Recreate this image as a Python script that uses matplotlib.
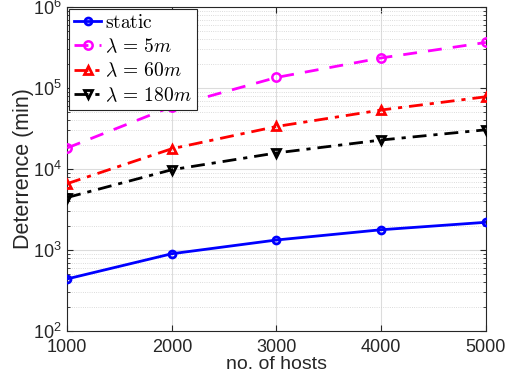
import matplotlib
matplotlib.use("Agg")
import matplotlib.pyplot as plt
from matplotlib.ticker import LogLocator, FixedLocator

hosts = [1000, 2000, 3000, 4000, 5000]
static = [440, 900, 1330, 1780, 2200]
lam5 = [18200, 59000, 135000, 235000, 365000]
lam60 = [6600, 17800, 33500, 53500, 78000]
lam180 = [4450, 9800, 15800, 22800, 30500]
labels = [r"$\mathrm{static}$", r"$\lambda\,=\,5m$", r"$\lambda\,=\,60m$", r"$\lambda\,=\,180m$"]

plt.rcParams['font.family'] = ['Liberation Sans', 'DejaVu Sans']
plt.rcParams['mathtext.fontset'] = 'cm'

fig = plt.figure(figsize=(5.05, 3.89), dpi=100)
ax = fig.add_axes([0.133, 0.149, 0.829, 0.833])

ax.semilogy(hosts, static, color='blue', ls='-', lw=2, marker='o', ms=5,
            mfc='none', mew=2, label=labels[0], zorder=3)
ax.semilogy(hosts, lam5, color='magenta', ls=(0, (5, 4)), lw=2, marker='o', ms=6,
            mfc='none', mew=1.8, label=labels[1], zorder=3)
ax.semilogy(hosts, lam60, color='red', ls=(0, (5, 2.5, 1.5, 2.5)), lw=2, marker='^', ms=5.5,
            mfc='none', mew=2, label=labels[2], zorder=3)
ax.semilogy(hosts, lam180, color='black', ls=(0, (5, 2.5, 1.5, 2.5)), lw=2, marker='v', ms=5.5,
            mfc='none', mew=2, label=labels[3], zorder=3)

ax.set_xlim(1000, 5000)
ax.set_ylim(1e2, 1e6)
ax.xaxis.set_major_locator(FixedLocator(hosts))
ax.set_xticklabels([str(h) for h in hosts])
ax.yaxis.set_major_locator(LogLocator(base=10, numticks=10))
ax.yaxis.set_minor_locator(LogLocator(base=10, subs=range(2, 10), numticks=20))

ax.grid(True, which='major', color='#dcdcdc', lw=0.8, ls='-')
ax.grid(True, which='minor', axis='y', color='#d0d0d0', lw=0.6, ls=':')
ax.set_axisbelow(True)

ax.tick_params(which='both', direction='in', top=True, right=True, colors='#262626',
               labelsize=13)
ax.tick_params(axis='x', pad=6)
ax.tick_params(axis='y', pad=4)
ax.tick_params(which='major', length=4)
ax.tick_params(which='minor', length=2)
for s in ax.spines.values():
    s.set_color('#262626')
    s.set_linewidth(0.8)

ax.set_xlabel("no. of hosts", fontsize=14, color='#262626', labelpad=0)
ax.set_ylabel("Deterrence (min)", fontsize=15.5, color='#262626', labelpad=-1)

leg = ax.legend(loc='upper left', fontsize=14, frameon=True, fancybox=False,
                edgecolor='#262626', framealpha=1, borderpad=0.25, labelspacing=0.3,
                handlelength=1.4, handletextpad=0.2, borderaxespad=0.1)
leg.get_frame().set_linewidth(0.8)
leg.set_zorder(5)

fig.savefig("out.png", dpi=100)
